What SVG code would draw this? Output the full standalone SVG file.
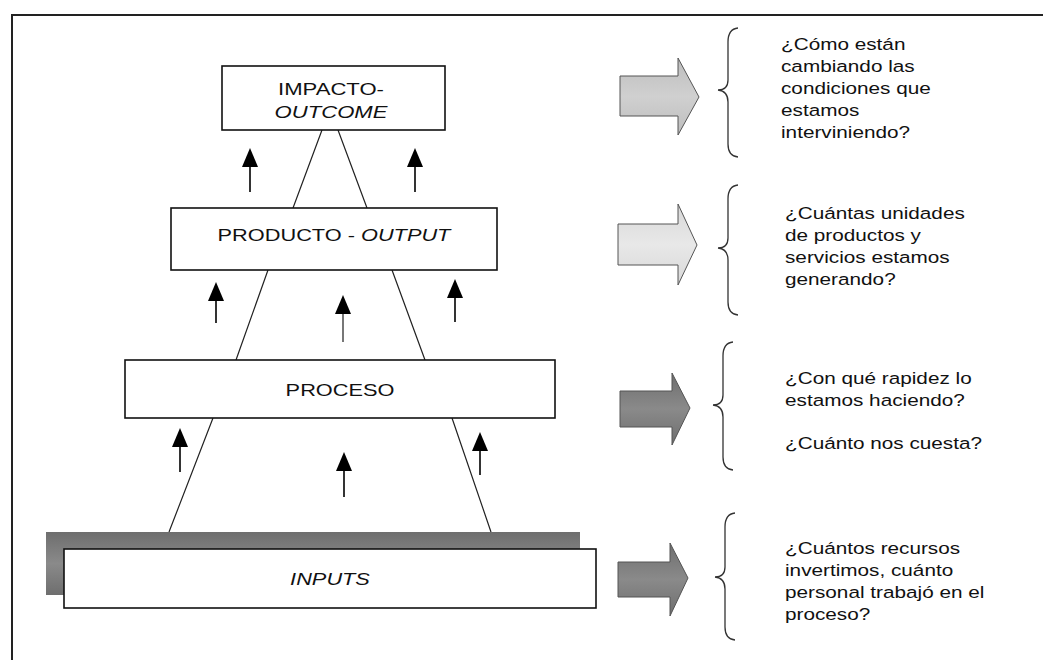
<svg xmlns="http://www.w3.org/2000/svg" width="1043" height="660" viewBox="0 0 1043 660">
<defs>
<style>
.box{fill:#fff;stroke:#111;stroke-width:1.6}
.ln{stroke:#222;stroke-width:1.2;fill:none}
.sh{stroke:#000;stroke-width:1.6}
.hd{fill:#000}
.lbl{font-family:"Liberation Sans",Arial,sans-serif;font-size:17px;fill:#111}
.q{font-family:"Liberation Sans",Arial,sans-serif;font-size:17px;fill:#111}
.br{fill:none;stroke:#333;stroke-width:1.3}
.blk{stroke:#555;stroke-width:1}
</style>
<linearGradient id="gLight" x1="0" y1="0" x2="0" y2="1"><stop offset="0" stop-color="#bdbdbd"/><stop offset="0.5" stop-color="#d0d0d0"/><stop offset="1" stop-color="#bdbdbd"/></linearGradient>
<linearGradient id="gLighter" x1="0" y1="0" x2="0" y2="1"><stop offset="0" stop-color="#d8d8d8"/><stop offset="0.5" stop-color="#e8e8e8"/><stop offset="1" stop-color="#d8d8d8"/></linearGradient>
<linearGradient id="gDark" x1="0" y1="0" x2="0" y2="1"><stop offset="0" stop-color="#6e6e6e"/><stop offset="0.5" stop-color="#8a8a8a"/><stop offset="1" stop-color="#6e6e6e"/></linearGradient>
</defs>
<rect width="1043" height="660" fill="#fff"/>
<path d="M12,660 L12,15 L1043,15" fill="none" stroke="#222" stroke-width="2"/>

<g id="connectors">
<path class="ln" d="M322,130 L293,208 M338,130 L367,208"/>
<path class="ln" d="M268,270 L236,360 M392,270 L425,360"/>
<path class="ln" d="M213,418 L169,532 M452,418 L491,532"/>
<g id="small-arrows">
<line class="sh" x1="250" y1="192" x2="250" y2="162"/><path class="hd" d="M250,148 L258,167 L242,167 Z"/>
<line class="sh" x1="415" y1="192" x2="415" y2="162"/><path class="hd" d="M415,148 L423,167 L407,167 Z"/>
<line class="sh" x1="216" y1="323" x2="216" y2="296"/><path class="hd" d="M216,282 L224,301 L208,301 Z"/>
<line x1="343" y1="342" x2="343" y2="309" stroke="#777" stroke-width="2"/><path class="hd" d="M343,295 L351,314 L335,314 Z"/>
<line class="sh" x1="455" y1="322" x2="455" y2="293"/><path class="hd" d="M455,279 L463,298 L447,298 Z"/>
<line class="sh" x1="180" y1="472" x2="180" y2="442"/><path class="hd" d="M180,428 L188,447 L172,447 Z"/>
<line class="sh" x1="344" y1="497" x2="344" y2="466"/><path class="hd" d="M344,452 L352,471 L336,471 Z"/>
<line class="sh" x1="480" y1="475" x2="480" y2="446"/><path class="hd" d="M480,432 L488,451 L472,451 Z"/>
</g>
<g id="block-arrows">
<path class="blk" fill="url(#gLight)" d="M620,76 L678,76 L678,58 L699,97 L678,135 L678,116 L620,116 Z"/>
<path class="blk" fill="url(#gLighter)" d="M618,224 L678,224 L678,204 L697,245 L678,285 L678,265 L618,265 Z"/>
<path class="blk" fill="url(#gDark)" d="M620,391 L672,391 L672,373 L690,408 L672,445 L672,427 L620,427 Z"/>
<path class="blk" fill="url(#gDark)" d="M618,562 L670,562 L670,543 L688,578 L670,616 L670,597 L618,597 Z"/>
</g>
<g id="braces">
<path class="br" d="M738,28 Q728,29 728,42 L728,80 Q728,90 718,90 Q728,91 728,102 L728,144 Q728,156 738,157"/>
<path class="br" d="M738,185 Q728,186 728,199 L728,238 Q728,248 718,248 Q728,249 728,260 L728,302 Q728,314 738,315"/>
<path class="br" d="M733,342 Q723,343 723,356 L723,395 Q723,405 713,405 Q723,406 723,417 L723,457 Q723,469 733,470"/>
<path class="br" d="M735,513 Q725,514 725,527 L725,567 Q725,577 715,577 Q725,578 725,589 L725,627 Q725,639 735,640"/>
</g>
</g>

<g id="node-impacto">
<rect class="box" x="222" y="66" width="223" height="64"/>
<text class="lbl" text-anchor="middle" transform="translate(331,95) scale(1.3,1)">IMPACTO-<tspan x="0" dy="23" font-style="italic">OUTCOME</tspan></text>
</g>
<g id="node-producto">
<rect class="box" x="171" y="208" width="326" height="62"/>
<text class="lbl" text-anchor="middle" transform="translate(334,241) scale(1.28,1)">PRODUCTO - <tspan font-style="italic">OUTPUT</tspan></text>
</g>
<g id="node-proceso">
<rect class="box" x="125" y="360" width="430" height="58"/>
<text class="lbl" text-anchor="middle" transform="translate(340,396) scale(1.28,1)">PROCESO</text>
</g>
<g id="node-inputs">
<rect x="46" y="532" width="534" height="63" fill="url(#gDark)"/>
<rect class="box" x="64" y="549" width="532" height="59"/>
<text class="lbl" text-anchor="middle" font-style="italic" transform="translate(330,585) scale(1.28,1)">INPUTS</text>
</g>

<g id="q-impacto">
<text class="q" transform="translate(781,50) scale(1.22,1)"><tspan x="0">¿Cómo están</tspan><tspan x="0" dy="22">cambiando las</tspan><tspan x="0" dy="22">condiciones que</tspan><tspan x="0" dy="22">estamos</tspan><tspan x="0" dy="22">interviniendo?</tspan></text>
</g>
<g id="q-producto">
<text class="q" transform="translate(785,219) scale(1.22,1)"><tspan x="0">¿Cuántas unidades</tspan><tspan x="0" dy="22">de productos y</tspan><tspan x="0" dy="22">servicios estamos</tspan><tspan x="0" dy="22">generando?</tspan></text>
</g>
<g id="q-proceso">
<text class="q" transform="translate(785,384) scale(1.22,1)"><tspan x="0">¿Con qué rapidez lo</tspan><tspan x="0" dy="22">estamos haciendo?</tspan><tspan x="0" dy="43">¿Cuánto nos cuesta?</tspan></text>
</g>
<g id="q-inputs">
<text class="q" transform="translate(785,554) scale(1.22,1)"><tspan x="0">¿Cuántos recursos</tspan><tspan x="0" dy="22">invertimos, cuánto</tspan><tspan x="0" dy="22">personal trabajó en el</tspan><tspan x="0" dy="22">proceso?</tspan></text>
</g>
</svg>
